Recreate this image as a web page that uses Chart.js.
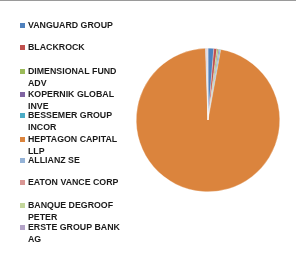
<!DOCTYPE html>
<html>
<head>
<meta charset="utf-8">
<script src="https://cdn.jsdelivr.net/npm/chart.js@4/dist/chart.umd.min.js"></script>
<style>
  html, body { margin: 0; padding: 0; background: #fff; }
  #wrap { position: relative; width: 296px; height: 262px; border-top: 1px solid #9a9a9a; box-sizing: border-box; }
</style>
</head>
<body>
<div id="wrap"><canvas id="myChart" width="296" height="261"></canvas></div>
<script>
// 株主（凡例の表示名は折り返し込み）
const holders = [
    ['VANGUARD GROUP'],
    ['BLACKROCK'],
    ['DIMENSIONAL FUND', 'ADV'],
    ['KOPERNIK GLOBAL', 'INVE'],
    ['BESSEMER GROUP', 'INCOR'],
    ['HEPTAGON CAPITAL', 'LLP'],
    ['ALLIANZ SE'],
    ['EATON VANCE CORP'],
    ['BANQUE DEGROOF', 'PETER'],
    ['ERSTE GROUP BANK', 'AG']
];
// 保有比率 (%)
const shares = [1.3, 0.7, 0.35, 0.25, 0.25, 96.6, 0.2, 0.15, 0.1, 0.1];
const colors = ['#4F81BD', '#C0504D', '#9BBB59', '#8064A2', '#4BACC6', '#DB843D',
                '#95B3D7', '#D99694', '#C3D69B', '#B3A2C7'];
// 凡例の各項目のy位置
const legendY = [25, 47, 71, 94, 115, 139, 160, 182, 205, 227];

const legendPlugin = {
    id: 'sideLegend',
    afterDraw(chart) {
        const ctx = chart.ctx;
        ctx.save();
        ctx.font = 'bold 8.8px "Liberation Sans", Arial, sans-serif';
        ctx.textBaseline = 'middle';
        holders.forEach((lines, i) => {
            const y = legendY[i];
            ctx.fillStyle = colors[i];
            ctx.fillRect(20, y - 3, 5, 5);
            ctx.fillStyle = '#1a1a1a';
            lines.forEach((t, j) => ctx.fillText(t, 28, y + j * 12));
        });
        ctx.restore();
    }
};

const ctx = document.getElementById('myChart').getContext('2d');
new Chart(ctx, {
    type: 'pie',
    data: {
        labels: holders.map(h => h.join(' ')),
        datasets: [{
            data: shares,
            backgroundColor: colors,
            borderColor: 'rgba(255,255,255,0.6)',
            borderWidth: 0.5
        }]
    },
    options: {
        responsive: false,
        animation: false,
        layout: { padding: { left: 136, right: 16, top: 47, bottom: 70 } },
        plugins: { legend: { display: false }, tooltip: { enabled: false } }
    },
    plugins: [legendPlugin]
});
</script>
</body>
</html>
